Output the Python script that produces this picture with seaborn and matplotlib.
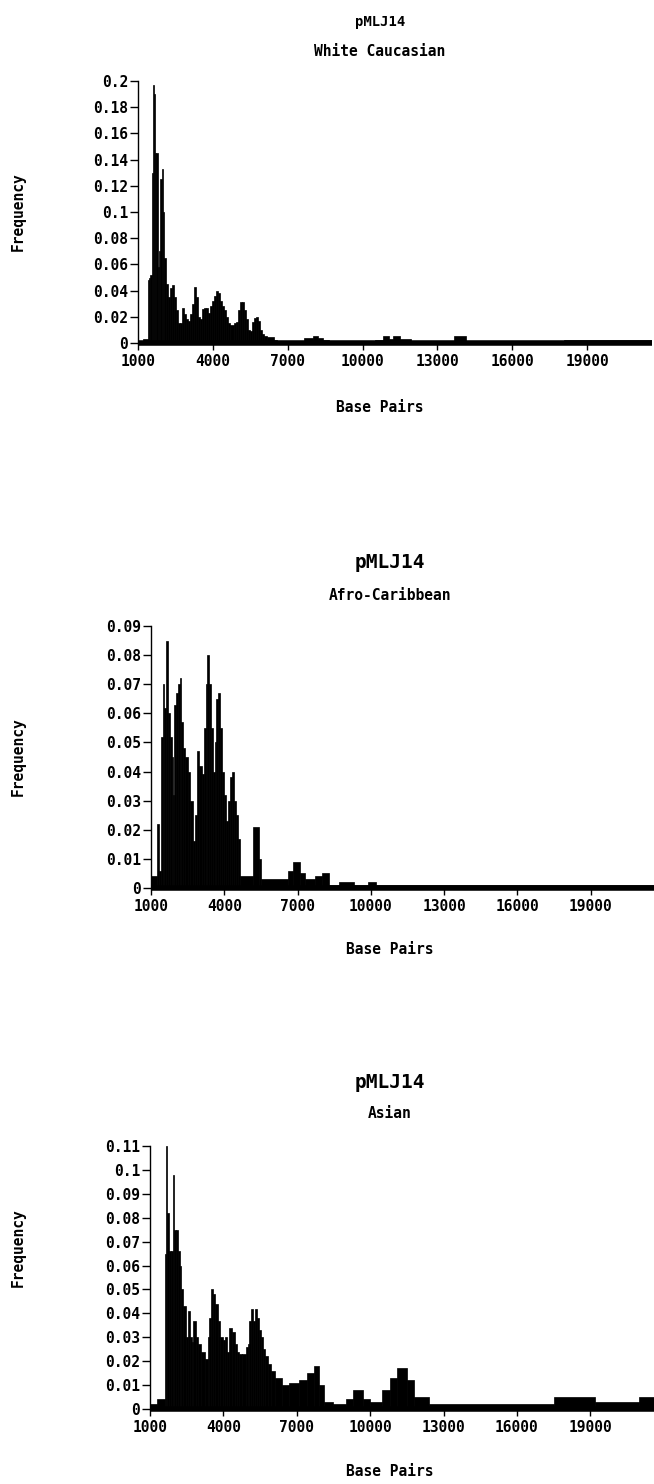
import numpy as np
import pandas as pd
import matplotlib
matplotlib.use("Agg")
import matplotlib.pyplot as plt
import seaborn as sns

# bin edges (base pairs) and frequencies
wc_edges = [1000, 1200, 1400, 1450, 1500, 1560, 1610, 1650, 1690, 1740,
            1790, 1840, 1890, 1950, 1990, 2050, 2130, 2210, 2270, 2350,
            2430, 2510, 2590, 2670, 2750, 2830, 2910, 2990, 3070, 3150,
            3230, 3310, 3390, 3470, 3550, 3630, 3710, 3790, 3870, 3950,
            4030, 4110, 4190, 4270, 4350, 4430, 4510, 4590, 4670, 4830,
            4910, 4990, 5070, 5150, 5230, 5310, 5390, 5470, 5550, 5630,
            5710, 5790, 5870, 5950, 6030, 6190, 6450, 6590, 7640, 8000,
            8200, 8430, 8640, 9500, 10500, 10800, 11070, 11200, 11500, 11930,
            13650, 14150, 18070, 21600]
wc_freq = [0.0015, 0.003, 0.048, 0.050, 0.052, 0.130, 0.197, 0.190, 0.145, 0.145,
           0.058, 0.070, 0.125, 0.133, 0.100, 0.065, 0.045, 0.035, 0.042, 0.044,
           0.035, 0.025, 0.015, 0.015, 0.027, 0.022, 0.018, 0.017, 0.022, 0.030,
           0.043, 0.035, 0.020, 0.018, 0.026, 0.027, 0.027, 0.023, 0.028, 0.032,
           0.036, 0.040, 0.038, 0.032, 0.028, 0.025, 0.020, 0.015, 0.014, 0.015,
           0.016, 0.025, 0.031, 0.031, 0.025, 0.018, 0.010, 0.009, 0.016, 0.019,
           0.020, 0.017, 0.010, 0.007, 0.005, 0.0045, 0.002, 0.0005, 0.004, 0.005,
           0.004, 0.002, 0.001, 0.0008, 0.002, 0.005, 0.003, 0.005, 0.003, 0.001,
           0.005, 0.001, 0.002]

ac_edges = [1000, 1250, 1320, 1430, 1490, 1540, 1620, 1690, 1760, 1840,
            1910, 1960, 2030, 2110, 2180, 2240, 2310, 2400, 2510, 2600,
            2700, 2800, 2890, 2970, 3080, 3190, 3250, 3300, 3370, 3450,
            3530, 3610, 3680, 3750, 3830, 3910, 3990, 4070, 4140, 4220,
            4310, 4390, 4470, 4550, 4660, 5170, 5440, 5500, 6600, 6800,
            7100, 7300, 7700, 8000, 8300, 8700, 9300, 9900, 10200, 21600]
ac_freq = [0.004, 0.022, 0.006, 0.052, 0.070, 0.062, 0.085, 0.060, 0.052, 0.045,
           0.032, 0.063, 0.067, 0.070, 0.072, 0.057, 0.048, 0.045, 0.040, 0.030,
           0.016, 0.025, 0.047, 0.042, 0.039, 0.055, 0.070, 0.080, 0.070, 0.055,
           0.040, 0.050, 0.065, 0.067, 0.055, 0.040, 0.032, 0.023, 0.030, 0.038,
           0.040, 0.030, 0.025, 0.017, 0.004, 0.021, 0.010, 0.003, 0.006, 0.009,
           0.005, 0.003, 0.004, 0.005, 0.001, 0.002, 0.001, 0.002, 0.001]

as_edges = [1000, 1300, 1610, 1650, 1690, 1760, 1840, 1950, 2000, 2080,
            2160, 2215, 2280, 2350, 2460, 2540, 2620, 2700, 2755, 2860,
            2960, 3090, 3230, 3360, 3430, 3500, 3590, 3670, 3770, 3860,
            3970, 4080, 4160, 4240, 4350, 4460, 4540, 4640, 4780, 4920,
            5000, 5050, 5130, 5210, 5300, 5370, 5450, 5530, 5620, 5720,
            5830, 5930, 6100, 6400, 6700, 7100, 7400, 7700, 7900, 8100,
            8500, 9000, 9300, 9700, 10000, 10500, 10800, 11100, 11500, 11800,
            12400, 17500, 19200, 21000, 21600]
as_freq = [0.002, 0.004, 0.065, 0.110, 0.082, 0.066, 0.066, 0.098, 0.075, 0.075,
           0.066, 0.060, 0.050, 0.043, 0.030, 0.041, 0.030, 0.028, 0.037, 0.030,
           0.027, 0.024, 0.021, 0.030, 0.038, 0.050, 0.048, 0.044, 0.037, 0.030,
           0.029, 0.030, 0.024, 0.034, 0.032, 0.027, 0.024, 0.023, 0.023, 0.026,
           0.027, 0.037, 0.042, 0.037, 0.042, 0.038, 0.033, 0.030, 0.025, 0.022,
           0.019, 0.016, 0.013, 0.010, 0.011, 0.012, 0.015, 0.018, 0.010, 0.003,
           0.002, 0.004, 0.008, 0.004, 0.003, 0.008, 0.013, 0.017, 0.012, 0.005,
           0.002, 0.005, 0.003, 0.005]

groups = ["White Caucasian", "Afro-Caribbean", "Asian"]
xticks = [1000, 4000, 7000, 10000, 13000, 16000, 19000]
wc_yticks = [0, 0.02, 0.04, 0.06, 0.08, 0.1, 0.12, 0.14, 0.16, 0.18, 0.2]
ac_yticks = [0, 0.01, 0.02, 0.03, 0.04, 0.05, 0.06, 0.07, 0.08, 0.09]
as_yticks = [0, 0.01, 0.02, 0.03, 0.04, 0.05, 0.06, 0.07, 0.08, 0.09, 0.1, 0.11]

sns.set_style("ticks")
plt.rcParams['font.family'] = ['DejaVu Sans Mono', 'DejaVu Sans']
plt.rcParams['font.weight'] = 'bold'
for key in ['text.color', 'axes.edgecolor', 'axes.labelcolor', 'xtick.color', 'ytick.color']:
    plt.rcParams[key] = 'black'

W, H = 654, 1484
fig = plt.figure(figsize=(W / 100, H / 100), dpi=100)


def fx(px):
    return px / W


def fy(py):
    return 1 - py / H


panels = [
    # edges, freq, yticks, left, right, top, bottom, title y, sub y, title size, xlabel y, ylabel y, center x
    (wc_edges, wc_freq, wc_yticks, 138, 652, 81, 343, 22, 52, 10, 408, 212, 380),
    (ac_edges, ac_freq, ac_yticks, 151, 654, 626, 888, 562, 595, 14, 950, 757, 390),
    (as_edges, as_freq, as_yticks, 150, 654, 1146, 1409, 1082, 1113, 14, 1472, 1248, 390),
]

for (edges, freq, yticks, l, r, t, b, ty, sy, tsize, xly, yly, cx), name in zip(panels, groups):
    assert len(edges) == len(freq) + 1
    e = np.array(edges, dtype=float)
    df = pd.DataFrame({"bp": (e[:-1] + e[1:]) / 2, "freq": freq})
    ax = fig.add_axes([fx(l), fy(b), fx(r) - fx(l), fy(t) - fy(b)])
    sns.histplot(data=df, x="bp", weights="freq", bins=list(edges), color="black",
                 alpha=1, edgecolor="black", linewidth=0.5, ax=ax)
    ax.set_xlim(1000, 21600)
    ax.set_ylim(0, yticks[-1])
    ax.set_xticks(xticks)
    ax.set_xticklabels([str(v) for v in xticks], fontsize=10.5, fontweight='bold')
    ax.set_yticks(yticks)
    ax.set_yticklabels([f"{v:g}" for v in yticks], fontsize=10.5, fontweight='bold')
    ax.set_xlabel("")
    ax.set_ylabel("")
    sns.despine(ax=ax)
    ax.spines['left'].set_linewidth(1.0)
    ax.spines['bottom'].set_linewidth(4.0)
    ax.spines['bottom'].set_capstyle('butt')
    ax.tick_params(axis='y', length=6, width=1, pad=1)
    ax.tick_params(axis='x', length=5, width=1, pad=3)

    fig.text(fx(cx), fy(ty), "pMLJ14", ha='center', va='center',
             fontsize=tsize, fontweight='bold')
    fig.text(fx(cx), fy(sy), name, ha='center', va='center',
             fontsize=10.5, fontweight='bold')
    fig.text(fx(cx), fy(xly), "Base Pairs", ha='center', va='center',
             fontsize=10.5, fontweight='bold')
    fig.text(fx(18), fy(yly), "Frequency", ha='center', va='center',
             rotation=90, fontsize=10.5, fontweight='bold')

fig.savefig("out.png", dpi=100, facecolor="white")
